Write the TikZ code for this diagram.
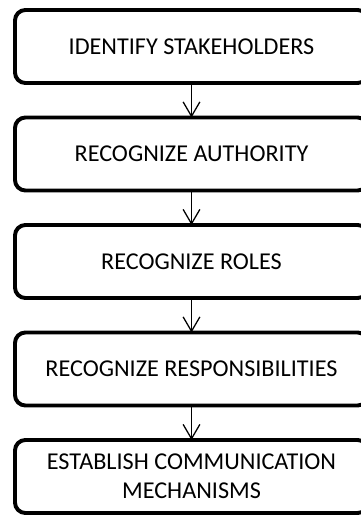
\documentclass[tikz,border=0pt]{standalone}
\usepackage{fontspec}
\setmainfont{Carlito}
\usetikzlibrary{arrows.meta,positioning}

\begin{document}
\begin{tikzpicture}[>={Straight Barb[length=3.6mm,width=4.2mm]},
  box/.style={draw,line width=2.8pt,rounded corners=2.6mm,outer sep=0pt,
    minimum width=8.825cm,minimum height=1.825cm,inner sep=0pt,
    align=center,font=\fontsize{17.2}{20.8}\selectfont},
  node distance=0.8625cm]
  \useasboundingbox (-4.7875,1.1625) rectangle (4.2125,-11.7375);
  % passi
  \node[box] (ident) at (0,0) {IDENTIFY STAKEHOLDERS};
  \node[box,below=of ident] (auth) {RECOGNIZE AUTHORITY};
  \node[box,below=of auth] (roles) {RECOGNIZE ROLES};
  \node[box,below=of roles] (resp) {RECOGNIZE RESPONSIBILITIES};
  \node[box,below=of resp] (comm) {ESTABLISH COMMUNICATION\\MECHANISMS};
  % frecce
  \foreach \a/\b in {ident/auth,auth/roles,roles/resp,resp/comm}
    \draw[->,line width=0.9pt] (\a) -- (\b);
\end{tikzpicture}
\end{document}
